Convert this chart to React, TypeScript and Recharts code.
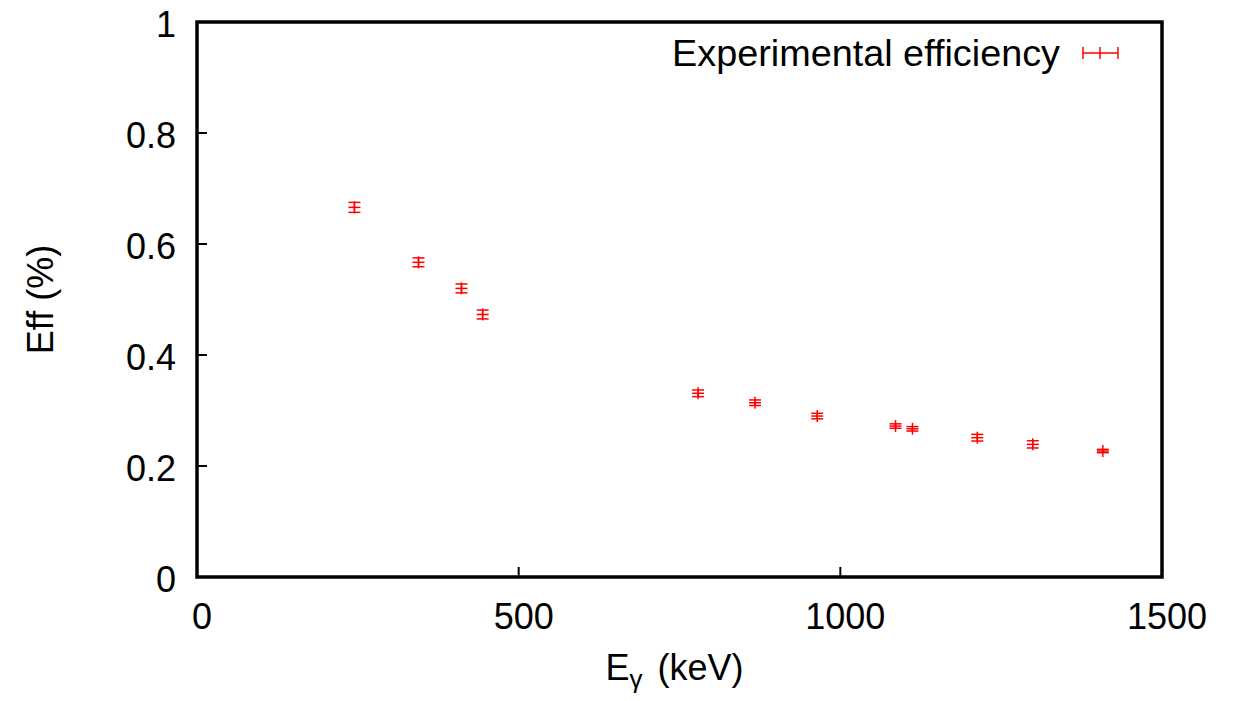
import React from 'react';
import {
  ScatterChart,
  Scatter,
  XAxis,
  YAxis,
  ErrorBar,
  ReferenceArea,
  Legend,
} from 'recharts';

// Gamma energies (keV)
const energies = [244.7, 344.3, 411.1, 444.0, 778.9, 867.4, 964.1, 1085.8, 1112.1, 1212.9, 1299.1, 1408.0];
// Efficiency values
const efficiencies = [0.666, 0.567, 0.52, 0.473, 0.331, 0.314, 0.29, 0.272, 0.267, 0.251, 0.239, 0.227];
// Efficiency errors
const errors = [0.009, 0.008, 0.008, 0.008, 0.006, 0.005, 0.005, 0.004, 0.004, 0.006, 0.0065, 0.003];

const xTicks = [0, 500, 1000, 1500];
const yTicks = [0, 0.2, 0.4, 0.6, 0.8, 1];
const seriesName = 'Experimental efficiency';

const data = energies.map((e, i) => ({ e, eff: efficiencies[i], err: errors[i] }));

const FONT = '"Liberation Sans", Arial, Helvetica, sans-serif';
const FS = 36;
const RED = '#ff0000';

const XTick = (props: any) => {
  const { x, y, payload } = props;
  return (
    <g>
      <line x1={x} y1={y} x2={x} y2={y - 10} stroke="#000" strokeWidth={2} />
      <text x={x + 5} y={y + 52} textAnchor="middle" fontFamily={FONT} fontSize={FS} fill="#000">
        {String(payload.value)}
      </text>
    </g>
  );
};

const YTick = (props: any) => {
  const { x, y, payload } = props;
  return (
    <g>
      <line x1={x} y1={y} x2={x + 10} y2={y} stroke="#000" strokeWidth={2} />
      <text x={x - 21} y={y + 15} textAnchor="end" fontFamily={FONT} fontSize={FS} fill="#000">
        {String(payload.value)}
      </text>
    </g>
  );
};

const XLabel = (props: any) => {
  const vb = props.viewBox || { x: 197, y: 577, width: 965 };
  const baseY = vb.y + 103;
  return (
    <text x={vb.x + vb.width / 2 - 74} y={baseY} fontFamily={FONT} fontSize={FS} fill="#000">
      <tspan>E</tspan>
      <tspan fontSize={26} dy={8}>γ</tspan>
      <tspan dy={-8} dx={15}>(keV)</tspan>
    </text>
  );
};

const YLabel = (props: any) => {
  const vb = props.viewBox || { x: 117, y: 22, height: 555 };
  const cy = vb.y + vb.height / 2;
  const bx = 53;
  return (
    <text
      x={bx}
      y={cy}
      transform={`rotate(-90, ${bx}, ${cy})`}
      textAnchor="middle"
      fontFamily={FONT}
      fontSize={FS}
      fill="#000"
    >
      Eff (%)
    </text>
  );
};

const PlusShape = (props: any) => {
  const { cx, cy } = props;
  if (cx == null || cy == null) return <g />;
  return (
    <g>
      <line x1={cx - 6} y1={cy} x2={cx + 6} y2={cy} stroke={RED} strokeWidth={1.5} />
      <line x1={cx} y1={cy - 6} x2={cx} y2={cy + 6} stroke={RED} strokeWidth={1.5} />
    </g>
  );
};

const LegendContent = () => (
  <svg width={1233} height={100} style={{ display: 'block' }}>
    <text x={1060} y={66} textAnchor="end" fontFamily={FONT} fontSize={37.8} fill="#000">
      {seriesName}
    </text>
    <line x1={1083} y1={53} x2={1118} y2={53} stroke={RED} strokeWidth={1.5} />
    <line x1={1083} y1={47} x2={1083} y2={59} stroke={RED} strokeWidth={1.5} />
    <line x1={1118} y1={47} x2={1118} y2={59} stroke={RED} strokeWidth={1.5} />
    <line x1={1100} y1={47} x2={1100} y2={59} stroke={RED} strokeWidth={1.5} />
  </svg>
);

export default function App() {
  return (
    <div style={{ position: 'absolute', left: 0, top: 0, width: 1233, height: 701, background: '#fff' }}>
      <ScatterChart
        width={1233}
        height={701}
        margin={{ top: 22, right: 71, left: 117, bottom: 64 }}
      >
        <XAxis
          type="number"
          dataKey="e"
          domain={[0, 1500]}
          ticks={xTicks}
          allowDataOverflow
          axisLine={false}
          tickLine={false}
          tickSize={0}
          tickMargin={0}
          height={60}
          tick={<XTick />}
          label={<XLabel />}
          interval={0}
        />
        <YAxis
          type="number"
          dataKey="eff"
          domain={[0, 1]}
          ticks={yTicks}
          allowDataOverflow
          axisLine={false}
          tickLine={false}
          tickSize={0}
          tickMargin={0}
          width={80}
          tick={<YTick />}
          label={<YLabel />}
          interval={0}
        />
        <Legend
          layout="vertical"
          align="center"
          verticalAlign="middle"
          wrapperStyle={{ position: 'absolute', left: 0, top: 0, width: 1233, height: 100 }}
          content={<LegendContent />}
        />
        <Scatter name={seriesName} data={data} shape={<PlusShape />} isAnimationActive={false}>
          <ErrorBar dataKey="err" direction="y" width={6} stroke={RED} strokeWidth={1.5} isAnimationActive={false} />
        </Scatter>
        <ReferenceArea
          x1={0}
          x2={1500}
          y1={0}
          y2={1}
          stroke="#000"
          strokeWidth={3.5}
          fill="none"
          fillOpacity={0}
          ifOverflow="visible"
        />
      </ScatterChart>
    </div>
  );
}
